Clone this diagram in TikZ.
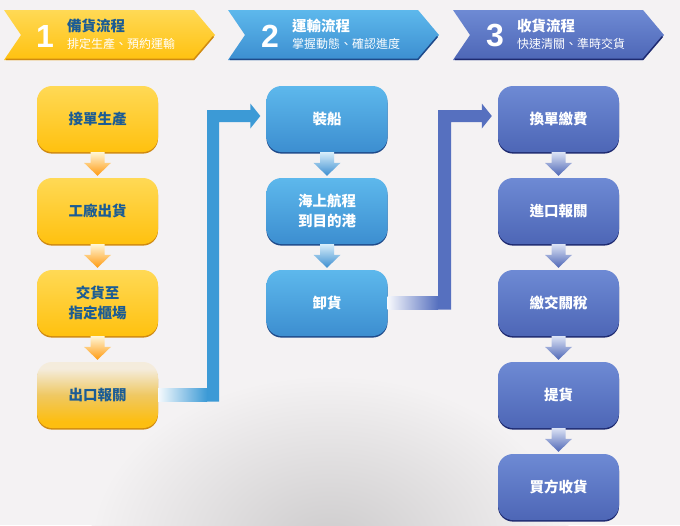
\documentclass[tikz,border=0pt]{standalone}
\usepackage{fontspec}
\setmainfont{Liberation Sans}
\newfontfamily\cjk{Noto Sans CJK TC}
\usetikzlibrary{calc,shadows}
\definecolor{bg}{HTML}{F4F2F3}
\definecolor{yTop}{HTML}{FFD955}
\definecolor{yBot}{HTML}{FFC10F}
\definecolor{yEdge}{HTML}{CF8A12}
\definecolor{yPale}{HTML}{F4ECDC}
\definecolor{yMid}{HTML}{EFC862}
\definecolor{yDeep}{HTML}{FDBE10}
\definecolor{bTop}{HTML}{5DB8EC}
\definecolor{bBot}{HTML}{3C8ED0}
\definecolor{bEdge}{HTML}{1E4A8A}
\definecolor{iTop}{HTML}{6E8AD4}
\definecolor{iBot}{HTML}{4D66B6}
\definecolor{iEdge}{HTML}{1E2A70}
\definecolor{txtBlue}{HTML}{1B5C94}
\definecolor{arrOr}{HTML}{FF9A10}
\definecolor{conB}{HTML}{3C9AD6}
\definecolor{conI}{HTML}{5670BF}
\tikzset{
  box/.style={minimum width=121pt, minimum height=66pt, rounded corners=15pt,
    inner sep=0pt, align=center, font=\cjk\bfseries\fontsize{14.5}{19.5}\selectfont},
  ybox/.style={box, top color=yTop, bottom color=yBot, text=txtBlue,
    drop shadow={shadow xshift=0pt, shadow yshift=-1.6pt, fill=yEdge, opacity=1}},
  bbox/.style={box, top color=bTop, bottom color=bBot, text=white,
    drop shadow={shadow xshift=0pt, shadow yshift=-1.6pt, fill=bEdge, opacity=1}},
  ibox/.style={box, top color=iTop, bottom color=iBot, text=white,
    drop shadow={shadow xshift=0pt, shadow yshift=-1.6pt, fill=iEdge, opacity=1}},
  numtxt/.style={text=white, font=\bfseries\fontsize{32}{32}\selectfont, inner sep=0pt},
  ttl/.style={anchor=west, inner sep=0pt, font=\cjk\bfseries\fontsize{14.5}{16}\selectfont},
  sub/.style={anchor=west, inner sep=0pt, text=white, font=\cjk\fontsize{12}{14}\selectfont},
}
\pgfdeclareverticalshading{paleyellow}{100bp}{color(0bp)=(yDeep); color(30bp)=(yDeep); color(50bp)=(yMid); color(70bp)=(yPale); color(100bp)=(yPale)}
\newcommand\farrow[4]{%
  \path[top color=#3, bottom color=#4]
    ($(#1.south)+(-7,0)$) -- ($(#1.south)+(7,0)$) -- ($(#2.north)+(7,-15)$)
    -- ($(#2.north)+(13.5,-15)$) -- ($(#2.north)+(0,-2)$) -- ($(#2.north)+(-13.5,-15)$)
    -- ($(#2.north)+(-7,-15)$) -- cycle;}
\begin{document}
\begin{tikzpicture}[x=1pt,y=-1pt]
\useasboundingbox (0,0) rectangle (680,525);
\fill[bg] (0,0) rectangle (680,525);
\begin{scope}
  \clip (0,0) rectangle (680,525);
  \shade[inner color=bg!84!black, outer color=bg] (330,545) ellipse (240 and 170);
\end{scope}

% header chevrons
\path[top color=yTop, bottom color=yBot] (4,10) -- (194,10) -- (215,35) -- (194,60) -- (4,60) -- (21,35) -- cycle;
\draw[yEdge, line width=1.5pt] (6,59.3) -- (194,59.3) -- (213.5,36.5);
\begin{scope}[xshift=224pt]
\path[top color=bTop, bottom color=bBot] (4,10) -- (194,10) -- (215,35) -- (194,60) -- (4,60) -- (21,35) -- cycle;
\draw[bEdge, line width=1.5pt] (6,59.3) -- (194,59.3) -- (213.5,36.5);
\end{scope}
\begin{scope}[xshift=449pt]
\path[top color=iTop, bottom color=iBot] (4,10) -- (194,10) -- (215,35) -- (194,60) -- (4,60) -- (21,35) -- cycle;
\draw[iEdge, line width=1.5pt] (6,59.3) -- (194,59.3) -- (213.5,36.5);
\end{scope}

\node[numtxt] (n1) at (45,36) {1};
\node[ttl, text=txtBlue] (t1) at (67,26) {備貨流程};
\node[sub] (u1) at (67,44) {排定生產、預約運輸};
\node[numtxt] (n2) at (270,36) {2};
\node[ttl, text=white] (t2) at (292,26) {運輸流程};
\node[sub] (u2) at (292,44) {掌握動態、確認進度};
\node[numtxt] (n3) at (495,36) {3};
\node[ttl, text=white] (t3) at (517,26) {收貨流程};
\node[sub] (u3) at (517,44) {快速清關、準時交貨};

% column 1
\node[ybox] (y1) at (97.5,119) {接單生產};
\node[ybox] (y2) at (97.5,211) {工廠出貨};
\node[ybox] (y3) at (97.5,303) {交貨至\\指定櫃場};
\node[box, text=txtBlue, shading=paleyellow,
  drop shadow={shadow xshift=0pt, shadow yshift=-1.6pt, fill=yEdge, opacity=1}] (y4) at (97.5,395) {出口報關};
% column 2
\node[bbox] (s1) at (327,119) {裝船};
\node[bbox] (s2) at (327,211) {海上航程\\到目的港};
\node[bbox] (s3) at (327,303) {卸貨};
% column 3
\node[ibox] (r1) at (558.5,119) {換單繳費};
\node[ibox] (r2) at (558.5,211) {進口報關};
\node[ibox] (r3) at (558.5,303) {繳交關稅};
\node[ibox] (r4) at (558.5,395) {提貨};
\node[ibox] (r5) at (558.5,487) {買方收貨};

% down arrows
\farrow{y1}{y2}{yTop!25!white}{arrOr}
\farrow{y2}{y3}{yTop!25!white}{arrOr}
\farrow{y3}{y4}{yTop!25!white}{arrOr}
\farrow{s1}{s2}{bTop!25!white}{bBot}
\farrow{s2}{s3}{bTop!25!white}{bBot}
\farrow{r1}{r2}{iTop!25!white}{iBot}
\farrow{r2}{r3}{iTop!25!white}{iBot}
\farrow{r3}{r4}{iTop!25!white}{iBot}
\farrow{r4}{r5}{iTop!25!white}{iBot}

% connector 1
\coordinate (k1) at (213,0);
\fill[conB] ($(k1 |- y4.east)+(-6,6.5)$) -- ($(k1 |- s1.west)+(-6,-9)$) -- ($(s1.west)+(-16,-9)$)
  -- ($(s1.west)+(-16,-15.5)$) -- ($(s1.west)+(-6,-3)$) -- ($(s1.west)+(-16,9.5)$)
  -- ($(s1.west)+(-16,3)$) -- ($(k1 |- s1.west)+(6,3)$) -- ($(k1 |- y4.east)+(6,6.5)$) -- cycle;
\path[left color=conB!5!white, right color=conB] ($(y4.east)+(0,-6.5)$) rectangle ($(k1 |- y4.east)+(-6,6.5)$);
% connector 2
\coordinate (k2) at (444.5,0);
\fill[conI] ($(k2 |- s3.east)+(-6.5,6.5)$) -- ($(k2 |- r1.west)+(-6.5,-9)$) -- ($(r1.west)+(-16,-9)$)
  -- ($(r1.west)+(-16,-15.5)$) -- ($(r1.west)+(-6,-3)$) -- ($(r1.west)+(-16,9.5)$)
  -- ($(r1.west)+(-16,3)$) -- ($(k2 |- r1.west)+(6.5,3)$) -- ($(k2 |- s3.east)+(6.5,6.5)$) -- cycle;
\path[left color=conI!5!white, right color=conI] ($(s3.east)+(0,-6.5)$) rectangle ($(k2 |- s3.east)+(-6.5,6.5)$);
\end{tikzpicture}
\end{document}
